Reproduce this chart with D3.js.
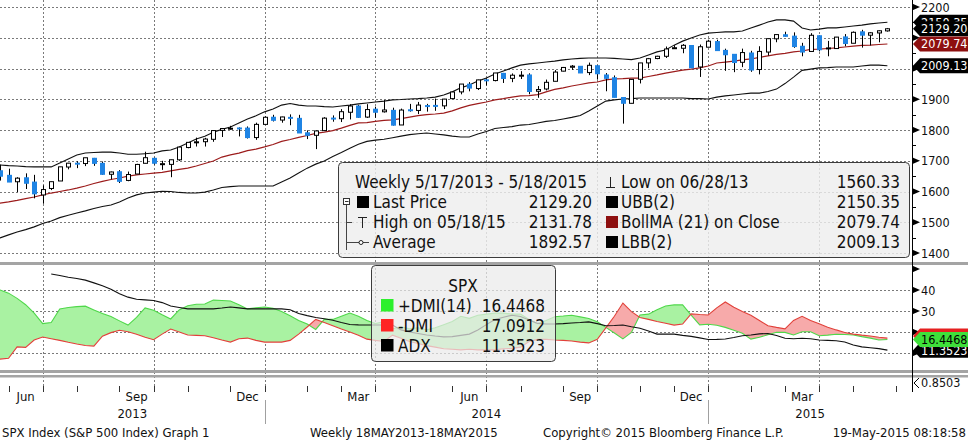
<!DOCTYPE html>
<html>
<head>
<meta charset="utf-8">
<script src="https://cdn.jsdelivr.net/npm/d3@7/dist/d3.min.js"></script>
<style>
html,body{margin:0;padding:0;background:#fff;}
svg{display:block;}
text{font-family:"DejaVu Sans Condensed","DejaVu Sans",sans-serif;}
</style>
</head>
<body>
<svg id="chart" width="968" height="440"></svg>
<script>
// ---------------- DATA ----------------
const dates = [
"2013-05-17","2013-05-24","2013-05-31","2013-06-07","2013-06-14","2013-06-21","2013-06-28","2013-07-05","2013-07-12","2013-07-19",
"2013-07-26","2013-08-02","2013-08-09","2013-08-16","2013-08-23","2013-08-30","2013-09-06","2013-09-13","2013-09-20","2013-09-27",
"2013-10-04","2013-10-11","2013-10-18","2013-10-25","2013-11-01","2013-11-08","2013-11-15","2013-11-22","2013-11-29","2013-12-06",
"2013-12-13","2013-12-20","2013-12-27","2014-01-03","2014-01-10","2014-01-17","2014-01-24","2014-01-31","2014-02-07","2014-02-14",
"2014-02-21","2014-02-28","2014-03-07","2014-03-14","2014-03-21","2014-03-28","2014-04-04","2014-04-11","2014-04-18","2014-04-25",
"2014-05-02","2014-05-09","2014-05-16","2014-05-23","2014-05-30","2014-06-06","2014-06-13","2014-06-20","2014-06-27","2014-07-04",
"2014-07-11","2014-07-18","2014-07-25","2014-08-01","2014-08-08","2014-08-15","2014-08-22","2014-08-29","2014-09-05","2014-09-12",
"2014-09-19","2014-09-26","2014-10-03","2014-10-10","2014-10-17","2014-10-24","2014-10-31","2014-11-07","2014-11-14","2014-11-21",
"2014-11-28","2014-12-05","2014-12-12","2014-12-19","2014-12-26","2015-01-02","2015-01-09","2015-01-16","2015-01-23","2015-01-30",
"2015-02-06","2015-02-13","2015-02-20","2015-02-27","2015-03-06","2015-03-13","2015-03-20","2015-03-27","2015-04-03","2015-04-10",
"2015-04-17","2015-04-24","2015-05-01","2015-05-08","2015-05-15","2015-05-18"];

const openPx = [
1633.7,1667.5,1652.6,1631.7,1644.7,1630.6,1588.8,1609.8,1634.2,1679.6,
1692.1,1690.9,1708.0,1691.7,1656.0,1664.3,1636.0,1656.9,1691.7,1707.9,
1687.3,1688.2,1703.0,1743.0,1759.4,1761.9,1769.7,1798.8,1803.5,1806.6,
1806.2,1775.4,1818.3,1841.5,1832.3,1841.1,1837.9,1791.0,1782.7,1798.0,
1838.8,1836.8,1857.7,1878.0,1842.0,1867.7,1859.2,1863.9,1816.3,1865.8,
1863.6,1879.5,1880.0,1878.5,1902.0,1923.9,1949.0,1934.8,1963.2,1960.8,
1984.2,1968.0,1976.9,1979.0,1926.0,1933.4,1958.4,1991.4,2004.1,2007.2,
1986.8,2009.1,1979.0,1970.0,1905.7,1886.8,1965.0,2018.2,2032.4,2039.7,
2065.0,2065.8,2074.8,2005.0,2069.3,2087.6,2058.9,2046.1,2020.2,2050.4,
1996.7,2053.5,2096.5,2109.8,2105.2,2072.3,2055.4,2106.6,2064.1,2064.9,
2102.8,2082.1,2119.3,2108.3,2115.6,2122.3];
const highPx = [
1667.5,1687.2,1674.2,1646.5,1659.0,1654.2,1620.1,1632.1,1680.2,1693.1,
1698.4,1709.7,1709.2,1697.6,1664.8,1669.5,1664.8,1690.0,1729.4,1710.0,
1699.8,1703.4,1745.3,1759.8,1775.2,1774.5,1798.2,1804.8,1813.6,1808.4,
1811.5,1823.8,1844.9,1849.4,1843.2,1850.8,1849.3,1798.8,1798.0,1841.7,
1847.5,1867.9,1883.6,1881.9,1884.0,1875.9,1897.3,1872.5,1869.6,1884.9,
1891.3,1885.0,1902.2,1901.3,1924.0,1949.4,1955.6,1963.9,1968.2,1985.6,
1985.6,1983.9,1991.4,1984.4,1942.9,1964.0,1994.8,2005.0,2011.2,2008.0,
2019.3,2011.0,1985.2,1977.4,1905.7,1965.3,2018.2,2034.3,2041.3,2071.5,
2075.8,2079.5,2075.8,2077.9,2093.6,2093.6,2064.4,2046.1,2064.6,2057.6,
2072.4,2097.0,2110.6,2119.6,2117.5,2083.5,2114.9,2107.6,2089.8,2102.6,
2111.9,2120.5,2125.9,2117.7,2123.9,2131.8];
const lowPx = [
1623.7,1635.5,1630.7,1598.2,1608.1,1577.7,1560.3,1604.6,1634.2,1672.1,
1676.0,1682.6,1683.4,1654.2,1639.4,1627.5,1633.4,1656.9,1691.7,1687.4,
1670.4,1646.5,1699.6,1740.5,1746.2,1746.2,1761.6,1777.2,1800.9,1779.1,
1772.3,1768.0,1818.3,1827.7,1823.7,1815.5,1790.3,1770.5,1737.9,1798.0,
1827.0,1825.9,1834.4,1839.6,1839.3,1839.6,1856.7,1814.4,1816.3,1859.7,
1851.7,1859.8,1862.4,1868.1,1900.6,1916.0,1925.8,1930.0,1944.7,1958.2,
1952.9,1955.5,1965.8,1916.4,1904.8,1928.8,1958.4,1990.5,1995.5,1985.2,
1978.5,1964.0,1926.0,1906.1,1820.7,1886.8,1951.4,2001.0,2030.2,2034.2,
2064.8,2049.6,2002.3,1972.6,2069.3,2057.9,1992.4,1988.1,2004.5,1989.2,
1980.9,2041.9,2085.4,2103.8,2067.3,2039.7,2055.4,2055.8,2039.7,2064.9,
2072.4,2082.1,2067.9,2075.0,2085.1,2120.0];
const closePx = [
1667.5,1649.6,1630.7,1643.4,1626.7,1592.4,1606.3,1631.9,1680.2,1692.1,
1691.7,1709.7,1691.4,1655.8,1663.5,1633.0,1655.2,1688.0,1709.9,1691.8,
1690.5,1703.2,1744.5,1759.8,1761.6,1770.6,1798.2,1804.8,1805.8,1805.1,
1775.3,1818.3,1841.4,1831.4,1842.4,1838.7,1790.3,1782.6,1797.0,1838.6,
1836.3,1859.5,1878.0,1841.1,1866.5,1857.6,1865.1,1815.7,1864.9,1863.4,
1881.1,1878.5,1877.9,1900.5,1923.6,1949.4,1936.2,1962.9,1961.0,1985.4,
1967.6,1978.2,1978.3,1925.2,1931.6,1955.1,1988.4,2003.4,2007.7,1985.5,
2010.4,1982.9,1967.9,1906.1,1886.8,1964.6,2018.1,2031.9,2039.8,2063.5,
2067.6,2075.4,2002.3,2070.7,2088.8,2058.2,2044.8,2019.4,2051.8,1995.0,
2055.5,2097.0,2110.3,2104.5,2071.3,2053.4,2108.1,2061.0,2067.0,2102.1,
2081.2,2117.7,2108.3,2116.1,2122.7,2129.2];

const ubb = [
1688,1686,1684,1683,1681,1680,1680,1680,1693,1706,
1719,1725,1727,1728,1728,1725,1721,1721,1723,1725,
1732,1735,1745,1758,1771,1780,1793,1802,1810,1823,
1836,1846,1859,1868,1881,1886,1881,1878,1878,1876,
1875,1878,1881,1885,1888,1891,1894,1898,1899,1901,
1902,1904,1907,1914,1924,1937,1946,1959,1969,1982,
1992,2002,2011,2015,2018,2021,2024,2028,2031,2033,
2034,2034,2034,2033,2031,2029,2034,2044,2054,2060,
2076,2089,2099,2109,2115,2117,2119,2119,2122,2132,
2141,2151,2158,2158,2154,2132,2125,2128,2132,2132,
2135,2138,2141,2145,2148,2150.35];
const bollMA = [
1555,1562,1566,1571,1577,1582,1589,1595,1600,1605,
1611,1618,1626,1633,1639,1644,1650,1654,1657,1660,
1662,1667,1672,1676,1683,1691,1699,1712,1719,1725,
1733,1738,1745,1753,1763,1769,1776,1782,1789,1793,
1798,1806,1815,1823,1824,1828,1831,1833,1837,1842,
1847,1850,1852,1855,1862,1872,1880,1886,1891,1898,
1902,1907,1911,1912,1915,1924,1932,1937,1943,1948,
1953,1956,1963,1966,1967,1969,1969,1974,1979,1985,
1990,1995,1998,2002,2008,2018,2021,2024,2028,2031,
2036,2041,2046,2049,2054,2057,2062,2063,2065,2067,
2070,2073,2075,2076,2078,2079.74];
const lbb = [
1439,1449,1459,1468,1476,1485,1496,1504,1515,1523,
1530,1537,1545,1551,1556,1566,1579,1589,1595,1598,
1601,1600,1597,1595,1595,1598,1605,1613,1616,1618,
1618,1618,1618,1618,1631,1644,1660,1676,1689,1699,
1714,1727,1741,1754,1763,1767,1770,1775,1780,1785,
1788,1790,1787,1784,1780,1777,1777,1787,1795,1805,
1808,1811,1816,1818,1823,1828,1831,1836,1841,1847,
1862,1878,1894,1898,1901,1902,1904,1904,1904,1904,
1904,1904,1902,1902,1901,1907,1911,1914,1917,1920,
1920,1925,1933,1951,1972,1994,1998,2002,2003,2005,
2005,2005,2008,2011,2011,2009.13];

const plusDMI = [
41,40,38.5,36,33,29,24,24.5,31,31.7,
32.1,32.3,30.5,28.8,27.4,25.3,23.3,27,31.5,30.4,
28.2,26.2,30.5,32.5,33.2,33.3,35.2,35,34.8,33,
31,31.5,31.9,31.3,29.8,27.7,25.5,23.8,21.2,26,
26,27.5,29,27.5,25.5,24,25,21.5,22.5,21.5,
22,21,22,23.5,25,27.5,26.5,28,28.5,29,
29,28.5,28.5,26,24,25.5,27.3,27.6,28,27.2,
26.4,24.9,22.2,19.5,16.7,19.8,28.1,28.5,30.6,32.4,
32.9,32.9,28,23.4,23.7,23.2,22.2,20.8,19.4,16.6,
17.5,18.7,19.9,19.8,18.6,20.1,20.1,18.2,18.5,18.9,
18.8,18.6,17.8,17.1,16.2,16.4468];
const minusDMI = [
7,7.1,7.5,12.9,12.7,16.2,17.6,16.8,16,15.1,
14.3,13.6,13.3,18,19.7,20.8,20.1,18.9,17.5,16.3,
19,21.4,20,18.6,18.4,18.2,17.3,16.2,15.2,16.8,
17.1,16,15.2,15.2,15.2,16,19,22.4,26,24.5,
23,21.4,20,18.4,16.6,16,15.5,18.5,17,15.5,
14.5,13.5,12.8,12,11.8,11.5,11.8,11.5,11.5,11.5,
12,12.2,12.8,15.5,16.5,16.5,16.2,16,15.7,15.2,
14.8,16.5,22,27.5,33.8,29.7,26.9,26,25,24.2,
23.3,23.8,28.6,28.3,28.1,31.5,34.3,31.8,29.8,28,
25.5,23,22.2,21.5,25.5,27.5,25.5,23.9,22.3,21,
19.8,19,18.5,18.1,17.5,17.0912];
const adx = [
null,null,null,null,null,null,null,47.6,46.9,46.1,
45.5,44.7,43.4,42,40.4,38.2,36.6,35.6,35.3,35,
34,32.4,31.7,31,31,31,31,31.4,31.9,31.5,
31,31,31,31,31,30.6,28.8,27.8,26.9,26.3,
25.6,24.5,23.6,23.4,23.3,23.3,23.3,23.3,21,20,
19.3,18.6,18.1,17.7,17.8,18.4,19,21,23.5,25.9,
27,28,27.4,25.7,24.1,23.8,23.8,24,24.3,24.5,
24.8,24,23,23.1,23.3,22.5,21.8,20.5,19,19,
19,18.4,17.9,17.2,16.4,16.5,16.7,17.4,18.2,18.6,
19.1,19.3,18.3,17,16.8,17,16.8,16.2,16,15.8,
15.2,13.8,12.9,12.5,12.1,11.3523];

const priceTicks = [1400,1500,1600,1700,1800,1900,2000,2100,2200];
const priceLabels = [1400,1500,1600,1700,1800,1900,2200];
const priceMinor = [1450,1550,1650,1750,1850,1950,2050,2150];
const dmiTicks = [10,20,30,40,50];
const dmiLabels = [30,40];
const dmiGrid = [10,20,30,40];
const monthNames = ["Jan","Feb","Mar","Apr","May","Jun","Jul","Aug","Sep","Oct","Nov","Dec"];

const legendTitle = "Weekly 5/17/2013 - 5/18/2015";
const legendLeft = [["Last Price","2129.20"],["High on 05/18/15","2131.78"],["Average","1892.57"]];
const legendRight = [["Low on 06/28/13","1560.33"],["UBB(2)","2150.35"],["BollMA (21) on Close","2079.74"],["LBB(2)","2009.13"]];
const dmiLegend = [["+DMI(14)","16.4468"],["-DMI","17.0912"],["ADX","11.3523"]];
const footer = ["SPX Index (S&P 500 Index) Graph 1","Weekly 18MAY2013-18MAY2015","Copyright\u00A9 2015 Bloomberg Finance L.P.","19-May-2015 08:18:58"];
const extraValue = "0.8503";

// ---------------- CHART ----------------
(function () {
const N = dates.length;
const W = 968, H = 440, AX = 912;
const svg = d3.select("#chart");
svg.append("rect").attr("width", W).attr("height", H).attr("fill", "#fff");

const x = d3.scaleLinear().domain([0, N - 1]).range([-8.5, 887.4]);
const yP = d3.scaleLinear().domain([1400, 2200]).range([253, 7]);
const yD = d3.scaleLinear().domain([0, 50]).range([374, 269]);

const parse = d3.timeParse("%Y-%m-%d");
const first = parse(dates[0]);
const axisWeeks = d3.range(N + 3).map(i => d3.timeDay.offset(first, 7 * i));
const monthEnds = [];
for (let i = 0; i < axisWeeks.length - 1; i++) {
  if (axisWeeks[i].getMonth() !== axisWeeks[i + 1].getMonth()) monthEnds.push(i);
}
const quarterEnds = monthEnds.filter(i => axisWeeks[i + 1].getMonth() % 3 === 0);
const yearEnds = monthEnds.filter(i => axisWeeks[i + 1].getMonth() === 0);

const defs = svg.append("defs");
defs.append("clipPath").attr("id", "clipTop").append("rect").attr("x", 0).attr("y", 0).attr("width", AX).attr("height", 262);
defs.append("clipPath").attr("id", "clipBot").append("rect").attr("x", 0).attr("y", 265).attr("width", AX).attr("height", 105);
const idx = d3.range(N);
defs.append("clipPath").attr("id", "aboveMinus").append("path")
  .attr("d", d3.area().x(i => x(i)).y0(265).y1(i => yD(minusDMI[i]))(idx));
defs.append("clipPath").attr("id", "belowMinus").append("path")
  .attr("d", d3.area().x(i => x(i)).y0(i => yD(minusDMI[i])).y1(372)(idx));

// gridlines
const grid = svg.append("g").attr("stroke", "#7a7a7a").attr("stroke-width", 1).attr("stroke-dasharray", "2,2");
quarterEnds.forEach(i => {
  const gx = Math.round(x(i)) + 0.5;
  if (gx > 0 && gx < AX) grid.append("line").attr("x1", gx).attr("x2", gx).attr("y1", 0).attr("y2", 387);
});
priceTicks.forEach(t => {
  const gy = Math.round(yP(t)) + 0.5;
  grid.append("line").attr("x1", 0).attr("x2", AX).attr("y1", gy).attr("y2", gy);
});
dmiGrid.forEach(t => {
  const gy = Math.round(yD(t)) + 0.5;
  grid.append("line").attr("x1", 0).attr("x2", AX).attr("y1", gy).attr("y2", gy);
});

// upper panel: bands + candles
const upperG = svg.append("g").attr("clip-path", "url(#clipTop)");
const pLine = d3.line().x((d, i) => x(i)).y(d => yP(d));
upperG.append("path").attr("d", pLine(ubb)).attr("fill", "none").attr("stroke", "#111").attr("stroke-width", 1.1);
upperG.append("path").attr("d", pLine(lbb)).attr("fill", "none").attr("stroke", "#111").attr("stroke-width", 1.1);
upperG.append("path").attr("d", pLine(bollMA)).attr("fill", "none").attr("stroke", "#9c1c1c").attr("stroke-width", 1.2);

dates.forEach((d, i) => {
  const cx = Math.round(x(i));
  const o = openPx[i], c = closePx[i];
  upperG.append("line").attr("x1", cx + 0.5).attr("x2", cx + 0.5)
    .attr("y1", yP(highPx[i])).attr("y2", yP(lowPx[i])).attr("stroke", "#000").attr("stroke-width", 1);
  const yt = yP(Math.max(o, c)), yb = yP(Math.min(o, c));
  if (c >= o) {
    upperG.append("rect").attr("x", cx - 1.5).attr("y", yt).attr("width", 4).attr("height", Math.max(1, yb - yt))
      .attr("fill", "#fff").attr("stroke", "#000").attr("stroke-width", 1);
  } else {
    upperG.append("rect").attr("x", cx - 2).attr("y", yt - 0.5).attr("width", 5).attr("height", Math.max(2, yb - yt + 1))
      .attr("fill", "#1f84e4");
  }
});

// lower panel: DMI
const lowerG = svg.append("g").attr("clip-path", "url(#clipBot)");
const between = d3.area().x(i => x(i)).y0(i => yD(minusDMI[i])).y1(i => yD(plusDMI[i]));
lowerG.append("g").attr("clip-path", "url(#aboveMinus)").append("path").attr("d", between(idx)).attr("fill", "#a9f2a2");
lowerG.append("g").attr("clip-path", "url(#belowMinus)").append("path").attr("d", between(idx)).attr("fill", "#f7aaaa");
const dLine = d3.line().defined(d => d != null).x((d, i) => x(i)).y(d => yD(d));
lowerG.append("path").attr("d", dLine(plusDMI)).attr("fill", "none").attr("stroke", "#4fd84a").attr("stroke-width", 1.1);
lowerG.append("path").attr("d", dLine(minusDMI)).attr("fill", "none").attr("stroke", "#e2403a").attr("stroke-width", 1.1);
lowerG.append("path").attr("d", dLine(adx)).attr("fill", "none").attr("stroke", "#111").attr("stroke-width", 1.1);

// separators
[[262, 3], [370, 3], [375, 2.5]].forEach(([sy, sh]) => {
  svg.append("rect").attr("x", 0).attr("y", sy).attr("width", W).attr("height", sh).attr("fill", "#a4a4a4");
});

// ---------- upper legend ----------
const lg = svg.append("g").attr("font-size", "17px").attr("fill", "#111");
lg.append("rect").attr("x", 338.5).attr("y", 162.5).attr("width", 571).attr("height", 95).attr("rx", 4)
  .attr("fill", "#eeeeee").attr("fill-opacity", 0.82).attr("stroke", "#3c3c3c");
const rowC = [182, 202, 222, 242];
lg.append("text").attr("x", 355).attr("y", rowC[0] + 6).text(legendTitle);
lg.append("rect").attr("x", 343.5).attr("y", rowC[1] - 3.5).attr("width", 6).attr("height", 6).attr("fill", "#fff").attr("stroke", "#333");
lg.append("line").attr("x1", 345).attr("x2", 348.5).attr("y1", rowC[1] - 0.5).attr("y2", rowC[1] - 0.5).attr("stroke", "#333");
lg.append("line").attr("x1", 346.5).attr("x2", 346.5).attr("y1", rowC[1] + 3).attr("y2", rowC[3] + 8).attr("stroke", "#444");
[rowC[2], rowC[3]].forEach(cy => lg.append("line").attr("x1", 346.5).attr("x2", 352).attr("y1", cy + 0.5).attr("y2", cy + 0.5).attr("stroke", "#444"));
lg.append("rect").attr("x", 357).attr("y", rowC[1] - 6).attr("width", 12).attr("height", 12).attr("fill", "#000");
lg.append("line").attr("x1", 362.5).attr("x2", 362.5).attr("y1", rowC[2] - 5).attr("y2", rowC[2] + 6).attr("stroke", "#222");
lg.append("line").attr("x1", 358).attr("x2", 367).attr("y1", rowC[2] - 4.5).attr("y2", rowC[2] - 4.5).attr("stroke", "#222");
lg.append("line").attr("x1", 352).attr("x2", 369).attr("y1", rowC[3] + 0.5).attr("y2", rowC[3] + 0.5).attr("stroke", "#444");
lg.append("circle").attr("cx", 361).attr("cy", rowC[3] + 0.5).attr("r", 2).attr("fill", "#fff").attr("stroke", "#222");
legendLeft.forEach(([name, val], k) => {
  lg.append("text").attr("x", 373).attr("y", rowC[k + 1] + 6).text(name);
  lg.append("text").attr("x", 592).attr("y", rowC[k + 1] + 6).attr("text-anchor", "end").text(val);
});
lg.append("line").attr("x1", 610.5).attr("x2", 610.5).attr("y1", rowC[0] - 5).attr("y2", rowC[0] + 6).attr("stroke", "#222");
lg.append("line").attr("x1", 606).attr("x2", 615).attr("y1", rowC[0] + 5.5).attr("y2", rowC[0] + 5.5).attr("stroke", "#222");
const sqCol = [null, "#000", "#8e1010", "#000"];
legendRight.forEach(([name, val], k) => {
  if (sqCol[k]) lg.append("rect").attr("x", 606).attr("y", rowC[k] - 6).attr("width", 12).attr("height", 12).attr("fill", sqCol[k]);
  lg.append("text").attr("x", 621).attr("y", rowC[k] + 6).text(name);
  lg.append("text").attr("x", 900).attr("y", rowC[k] + 6).attr("text-anchor", "end").text(val);
});

// ---------- lower legend ----------
const dl = svg.append("g").attr("font-size", "17px").attr("fill", "#111");
dl.append("rect").attr("x", 371.5).attr("y", 265.5).attr("width", 184).attr("height", 96).attr("rx", 4)
  .attr("fill", "#eaeaea").attr("fill-opacity", 0.72).attr("stroke", "#3c3c3c");
dl.append("text").attr("x", 463).attr("y", 292).attr("text-anchor", "middle").text("SPX");
const dCol = ["#2cf02c", "#ff2424", "#000"];
dmiLegend.forEach(([name, val], k) => {
  const cy = 305.5 + 20 * k;
  dl.append("rect").attr("x", 381).attr("y", cy - 6.5).attr("width", 12.5).attr("height", 12.5).attr("fill", dCol[k]);
  dl.append("text").attr("x", 398).attr("y", cy + 6).text(name);
  dl.append("text").attr("x", 545).attr("y", cy + 6).attr("text-anchor", "end").text(val);
});

// ---------- right axis ----------
const ax = svg.append("g");
ax.append("line").attr("x1", AX + 0.5).attr("x2", AX + 0.5).attr("y1", 0).attr("y2", 392).attr("stroke", "#000");
const tri = y => `M${AX},${y - 3.5}L${AX + 8},${y}L${AX},${y + 3.5}Z`;
priceTicks.forEach(t => ax.append("path").attr("d", tri(yP(t))).attr("fill", "#000"));
priceLabels.forEach(t => {
  ax.append("text").attr("x", 921).attr("y", yP(t) + 4.5).attr("font-size", "12.5px").attr("fill", "#111").text(t);
});
priceMinor.forEach(t => {
  const ty = Math.round(yP(t)) + 0.5;
  ax.append("line").attr("x1", AX).attr("x2", AX + 4).attr("y1", ty).attr("y2", ty).attr("stroke", "#000");
});
dmiTicks.forEach(t => ax.append("path").attr("d", tri(yD(t))).attr("fill", "#000"));
dmiLabels.forEach(t => ax.append("text").attr("x", 921).attr("y", yD(t) + 4.5).attr("font-size", "12.5px").attr("fill", "#111").text(t));

function tag(yc, label, fill, color) {
  ax.append("path").attr("d", `M${AX + 1},${yc}L${AX + 8},${yc - 7.5}L${W},${yc - 7.5}L${W},${yc + 7.5}L${AX + 8},${yc + 7.5}Z`)
    .attr("fill", fill);
  if (label) ax.append("text").attr("x", 921).attr("y", yc + 4.5).attr("font-size", "12.5px").attr("fill", color).text(label);
}
tag(yP(ubb[N - 1]), ubb[N - 1].toFixed(2), "#000", "#fff");
tag(yP(closePx[N - 1]), closePx[N - 1].toFixed(2), "#000", "#fff");
tag(yP(bollMA[N - 1]), bollMA[N - 1].toFixed(2), "#8e1010", "#fff");
tag(yP(lbb[N - 1]), lbb[N - 1].toFixed(2), "#000", "#fff");
tag(yD(adx[N - 1]), adx[N - 1].toFixed(4), "#000", "#fff");
tag(yD(minusDMI[N - 1]) - 2, null, "#e52020", "#000");
tag(yD(plusDMI[N - 1]), plusDMI[N - 1].toFixed(4), "#3fe03a", "#000");

ax.append("path").attr("d", `M${AX + 7},378L${AX + 2},383L${AX + 7},388`).attr("fill", "none").attr("stroke", "#000");
ax.append("text").attr("x", 921).attr("y", 386.5).attr("font-size", "12.5px").attr("fill", "#111").text(extraValue);

// ---------- bottom axis ----------
const bx = svg.append("g").attr("font-size", "13px").attr("fill", "#111");
monthEnds.forEach(i => {
  const tx = Math.round(x(i)) + 0.5;
  if (tx > 0 && tx < AX) bx.append("line").attr("x1", tx).attr("x2", tx).attr("y1", 386).attr("y2", 392).attr("stroke", "#333");
});
for (let k = 1; k < monthEnds.length; k++) {
  const m = axisWeeks[monthEnds[k]].getMonth();
  if (m % 3 === 2) {
    const lx = (x(monthEnds[k - 1]) + x(monthEnds[k])) / 2;
    if (lx < AX) bx.append("text").attr("x", lx).attr("y", 401).attr("text-anchor", "middle").text(monthNames[m]);
  }
}
const bounds = [0].concat(yearEnds.map(i => x(i))).concat([AX]);
yearEnds.forEach(i => {
  const tx = Math.round(x(i)) + 0.5;
  bx.append("line").attr("x1", tx).attr("x2", tx).attr("y1", 400).attr("y2", 424).attr("stroke", "#a0a0a0");
});
for (let k = 0; k < bounds.length - 1; k++) {
  const yr = axisWeeks[0].getFullYear() + k;
  bx.append("text").attr("x", (bounds[k] + bounds[k + 1]) / 2).attr("y", 418).attr("text-anchor", "middle").text(yr);
}
const ft = svg.append("g").attr("font-size", "13px").attr("fill", "#111");
ft.append("text").attr("x", 2).attr("y", 437).text(footer[0]);
ft.append("text").attr("x", 310).attr("y", 437).text(footer[1]);
ft.append("text").attr("x", 543).attr("y", 437).text(footer[2]);
ft.append("text").attr("x", 966).attr("y", 437).attr("text-anchor", "end").text(footer[3]);
})();
</script>
</body>
</html>
